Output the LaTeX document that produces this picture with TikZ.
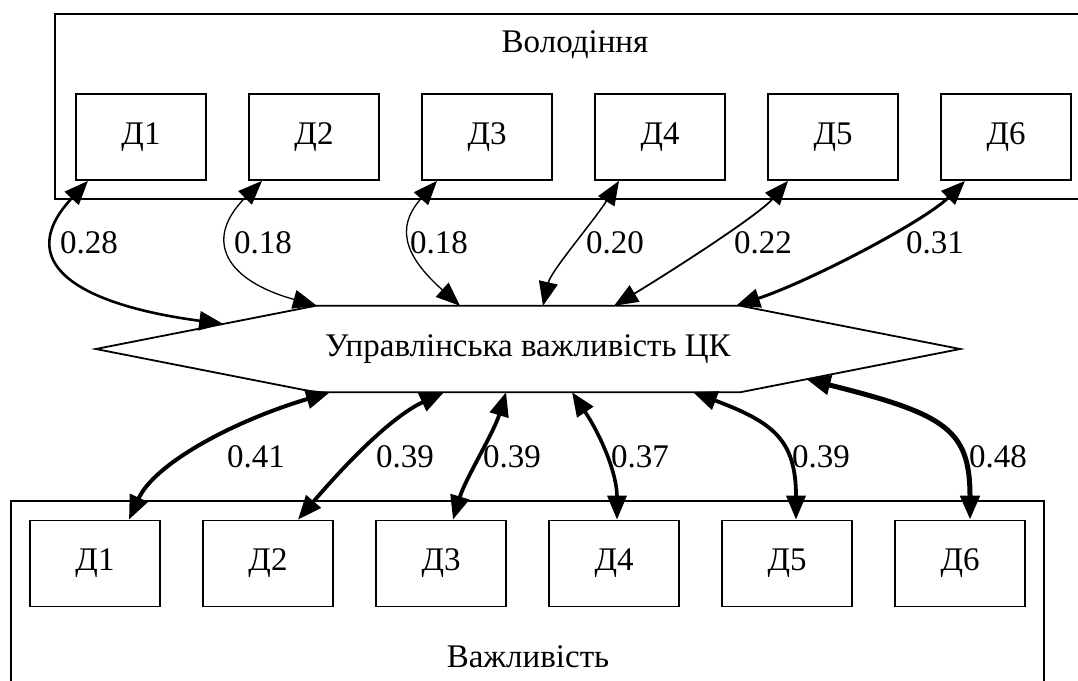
\documentclass[tikz,border=0pt]{standalone}
\usepackage{fontspec}
\setmainfont{Liberation Serif}
\usetikzlibrary{arrows.meta,calc}
\tikzset{
  dbox/.style={draw, line width=1.8pt, minimum width=130pt, minimum height=86pt, inner sep=0pt, font=\fontsize{33}{40}\selectfont},
  cl/.style={draw, line width=1.8pt},
  lab/.style={inner sep=0pt, font=\fontsize{33}{40}\selectfont},
  e/.style={>={Triangle[length=24pt,width=19pt]}, <->, line width=#1},
}
\begin{document}
\begin{tikzpicture}[x=1pt,y=1pt]
\clip (0,0) rectangle (1078,-680);
\fill[white] (0,0) rectangle (1078,-680);
% clusters
\draw[cl] (55,-14) rectangle (1095,-199);
\draw[cl] (11,-501) rectangle (1044,-700);
\node[lab] (cltop) at (575,-45) {Володіння};
\node[lab] (clbot) at (528,-657) {Важливість};
% top boxes
\node[dbox] (t1) at (141,-137) {Д1};
\node[dbox] (t2) at (314,-137) {Д2};
\node[dbox] (t3) at (487,-137) {Д3};
\node[dbox] (t4) at (660,-137) {Д4};
\node[dbox] (t5) at (833,-137) {Д5};
\node[dbox] (t6) at (1006,-137) {Д6};
% bottom boxes
\node[dbox] (b1) at (95,-563.5) {Д1};
\node[dbox] (b2) at (268,-563.5) {Д2};
\node[dbox] (b3) at (441,-563.5) {Д3};
\node[dbox] (b4) at (614,-563.5) {Д4};
\node[dbox] (b5) at (787,-563.5) {Д5};
\node[dbox] (b6) at (960,-563.5) {Д6};
% hexagon
\node[minimum width=864pt, minimum height=86pt, inner sep=0pt, font=\fontsize{33}{40}\selectfont] (hex) at (528,-349) {Управлінська важливість ЦК};
\coordinate (hTL) at ([xshift=-212.5pt]hex.north);
\coordinate (hTR) at ([xshift=212.5pt]hex.north);
\coordinate (hBL) at ([xshift=-212.5pt]hex.south);
\coordinate (hBR) at ([xshift=212.5pt]hex.south);
\draw[line width=1.8pt] (hex.west) -- (hTL) -- (hTR) -- (hex.east) -- (hBR) -- (hBL) -- cycle;
% top edges
\draw[e=2.6pt] ([xshift=-53pt]t1.south) .. controls +(-75,-80) and +(-150,20) .. ($(hex.west)!0.58!(hTL)$);
\draw[e=1.3pt] ([xshift=-52pt]t2.south) .. controls +(-60,-60) and +(-90,25) .. ([xshift=-211pt]hex.north);
\draw[e=1.3pt] ([xshift=-50pt]t3.south) .. controls +(-45,-50) and +(-50,45) .. ([xshift=-68pt]hex.north);
\draw[e=1.5pt] ([xshift=-41pt]t4.south) .. controls +(-25,-40) and +(8,35) .. ([xshift=15pt]hex.north);
\draw[e=1.8pt] ([xshift=-45pt]t5.south) .. controls +(-30,-35) and +(50,30) .. ([xshift=86pt]hex.north);
\draw[e=3pt] ([xshift=-41pt]t6.south) .. controls +(-40,-40) and +(75,25) .. ([xshift=208pt]hex.north);
% bottom edges
\draw[e=4pt] ([xshift=-198pt]hex.south) .. controls +(-100,-30) and +(25,55) .. ([xshift=34pt]b1.north);
\draw[e=3.8pt] ([xshift=-84pt]hex.south) .. controls +(-60,-28) and +(30,35) .. ([xshift=30pt]b2.north);
\draw[e=3.8pt] ([xshift=-22pt]hex.south) .. controls +(-12,-40) and +(12,40) .. ([xshift=12pt]b3.north);
\draw[e=3.6pt] ([xshift=44pt]hex.south) .. controls +(30,-45) and +(0,45) .. ([xshift=3pt]b4.north);
\draw[e=3.8pt] ([xshift=165pt]hex.south) .. controls +(80,-30) and +(0,80) .. ([xshift=9pt]b5.north);
\draw[e=5pt] ($(hBR)!0.3!(hex.east)$) .. controls +(140,-35) and +(0,90) .. ([xshift=10pt]b6.north);
% labels
\node[lab] (l1) at (89,-243) {0.28};
\node[lab] (l2) at (263,-243) {0.18};
\node[lab] (l3) at (439,-243) {0.18};
\node[lab] (l4) at (615,-243) {0.20};
\node[lab] (l5) at (763,-243) {0.22};
\node[lab] (l6) at (935,-243) {0.31};
\node[lab] (m1) at (256,-457) {0.41};
\node[lab] (m2) at (405,-457) {0.39};
\node[lab] (m3) at (512,-457) {0.39};
\node[lab] (m4) at (640,-457) {0.37};
\node[lab] (m5) at (821,-457) {0.39};
\node[lab] (m6) at (998,-457) {0.48};
\end{tikzpicture}
\end{document}
